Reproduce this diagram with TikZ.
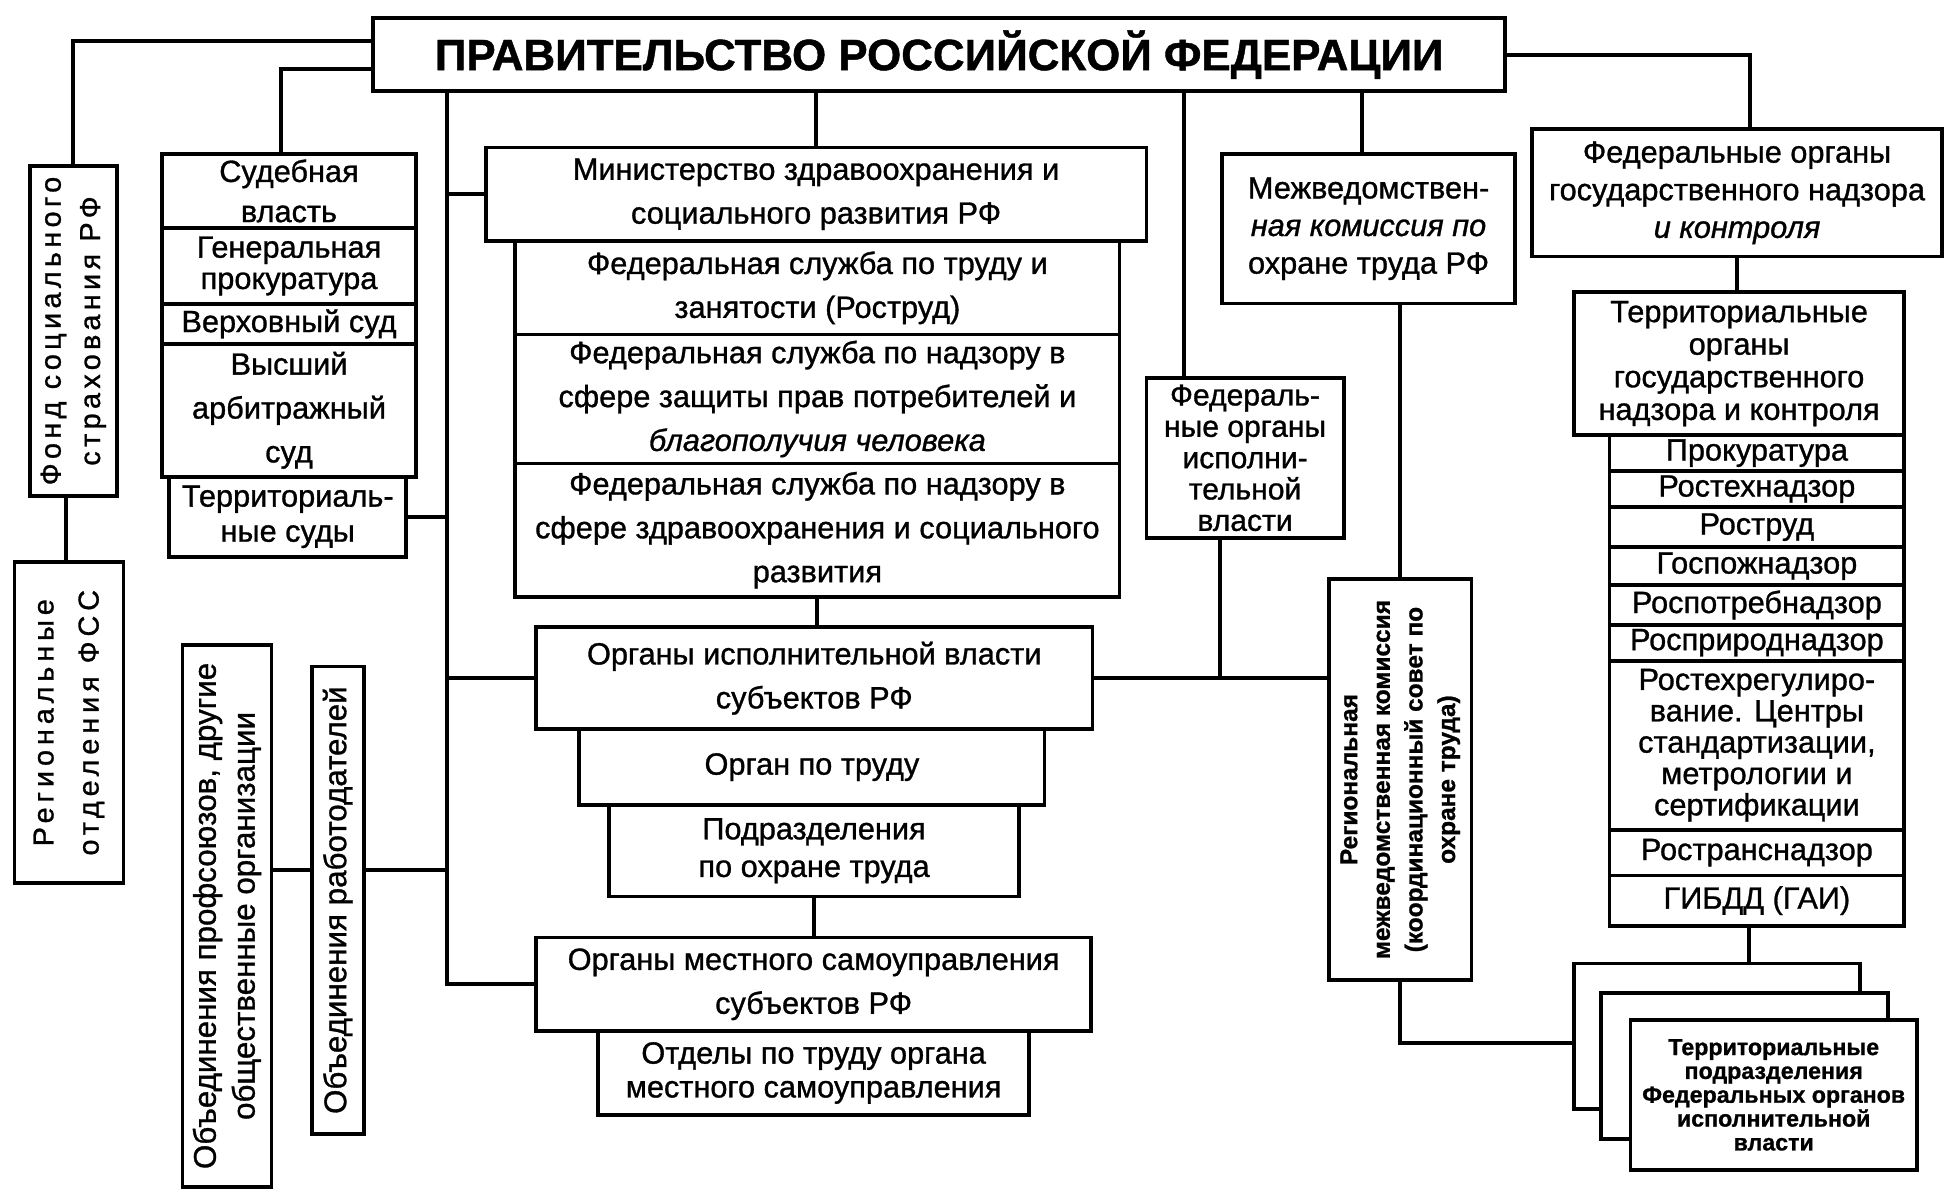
\documentclass[tikz,border=0pt]{standalone}
\usepackage{fontspec}
\setmainfont{Liberation Sans}
\newcommand{\fsz}[2]{\fontsize{#1}{#2}\selectfont\addfontfeatures{FakeBold=1}}

\begin{document}
\begin{tikzpicture}[x=1pt,y=-1pt,
  box/.style={draw,line width=3pt,inner sep=0pt,align=center,fill=white,font=\fsz{24.5}{35}},
  vbox/.style={box,rotate=90},
  link/.style={line width=3.2pt}]

  \useasboundingbox (0,0) rectangle (1560,955);

  \node[box,minimum width=903pt,minimum height=58pt,font=\fsz{35}{40}\bfseries] (gov) at (749,43.6) {ПРАВИТЕЛЬСТВО РОССИЙСКОЙ ФЕДЕРАЦИИ};

  % left column
  \node[vbox,minimum width=263pt,minimum height=69.5pt,font={\fsz{23}{31.4}\addfontfeatures{LetterSpace=15}}] (fss) at (58.5,264) {Фонд социального\\страхования РФ};
  \node[vbox,minimum width=256pt,minimum height=87pt,font={\fsz{23}{36}\addfontfeatures{LetterSpace=17}}] (regfss) at (55,576.4) {Региональные\\отделения ФСС};

  \node[box,minimum width=203pt,minimum height=59.1pt,font=\fsz{24.5}{32}] (sud) at (230.5,152.25) {Судебная\\власть};
  \node[box,minimum width=203pt,minimum height=60.6pt,font=\fsz{24.5}{25}] (genpr) at (230.5,212.1) {Генеральная\\прокуратура};
  \node[box,minimum width=203pt,minimum height=31.8pt] (verkh) at (230.5,258.3) {Верховный суд};
  \node[box,minimum width=203pt,minimum height=106.1pt] (vas) at (230.5,327.25) {Высший\\арбитражный\\суд};
  \node[box,minimum width=189pt,minimum height=63.7pt,font=\fsz{24.5}{28}] (terrsud) at (229.5,412.15) {Территориаль-\\ные суды};

  \node[vbox,minimum width=432.4pt,minimum height=71pt,font=\fsz{25}{31}] (profs) at (181,730.5) {Объединения профсоюзов, другие\\общественные организации};
  \node[vbox,minimum width=372.8pt,minimum height=41.6pt,font=\fsz{25}{31}] (rabot) at (269.4,717.9) {Объединения работодателей};

  % middle column
  \node[box,minimum width=527pt,minimum height=74.8pt] (ministry) at (650.85,155) {Министерство здравоохранения и\\социального развития РФ};
  \node[box,minimum width=482pt,minimum height=74.3pt] (fs1) at (651.9,229.55) {Федеральная служба по труду и\\занятости (Роструд)};
  \node[box,minimum width=482pt,minimum height=103pt] (fs2) at (651.9,318.2) {Федеральная служба по надзору в\\сфере защиты прав потребителей и\\{\itshape благополучия человека}};
  \node[box,minimum width=482pt,minimum height=106.3pt] (fs3) at (651.9,422.85) {Федеральная служба по надзору в\\сфере здравоохранения и социального\\развития};

  \node[box,minimum width=444pt,minimum height=81.2pt] (orgisp) at (649.4,540.9) {Органы исполнительной власти\\субъектов РФ};
  \node[box,minimum width=371pt,minimum height=60.6pt] (orgtrud) at (647.55,611.8) {Орган по труду};
  \node[box,minimum width=326.5pt,minimum height=72.8pt,font=\fsz{24.5}{30}] (podr) at (649.25,678.5) {Подразделения\\по охране труда};
  \node[box,minimum width=443pt,minimum height=74.8pt] (orgmest) at (648.9,785) {Органы местного самоуправления\\субъектов РФ};
  \node[box,minimum width=344pt,minimum height=66.7pt,font=\fsz{24.5}{27}] (otdely) at (648.9,855.75) {Отделы по труду органа\\местного самоуправления};

  % right part
  \node[box,minimum width=234pt,minimum height=119.3pt,font=\fsz{24.5}{30}] (mezhved) at (1091.5,182.35) {Межведомствен-\\{\itshape ная комиссия по}\\охране труда РФ};
  \node[box,minimum width=157.4pt,minimum height=127.3pt,font=\fsz{24}{25}] (fedisp) at (993,365.15) {Федераль-\\ные органы\\исполни-\\тельной\\власти};
  \node[vbox,minimum width=319.5pt,minimum height=113.5pt,font=\fsz{19.5}{26}\bfseries] (regmv) at (1116.75,621.75) {Региональная\\межведомственная комиссия\\(координационный совет по\\охране труда)};

  \node[box,minimum width=327pt,minimum height=101.5pt,font=\fsz{24.5}{30}] (fedgos) at (1385.4,153.75) {Федеральные органы\\государственного надзора\\{\itshape и контроля}};
  \node[box,minimum width=263.6pt,minimum height=114pt,font=\fsz{24.5}{26}] (terrgos) at (1387,290) {Территориальные\\органы\\государственного\\надзора и контроля};

  \foreach \nm/\yc/\hh/\txt in {prok/361.4/28.8/Прокуратура, rth/390.15/28.7/Ростехнадзор,
      rtrud/420.45/31.9/Роструд, gpn/451.55/30.3/Госпожнадзор, rpotr/482.45/31.5/Роспотребнадзор,
      rprir/512.6/28.8/Росприроднадзор, rtreg/594.4/134.8/{Ростехрегулиро-\\вание. Центры\\стандартизации,\\метрологии и\\сертификации},
      rtrans/680/36.4/Ространснадзор, gibdd/718.35/40.3/ГИБДД (ГАИ)}
    \node[box,minimum width=235.2pt,minimum height=\hh pt,font=\fsz{24.5}{25}] (\nm) at (1401.2,\yc) {\txt};

  \node[box,minimum width=228pt,minimum height=116.1pt] (back) at (1369.2,826.55) {};
  \node[box,minimum width=228.5pt,minimum height=116.2pt] (mid) at (1391.25,850.1) {};
  \node[box,minimum width=228.6pt,minimum height=119.6pt,font=\fsz{18.5}{19}\bfseries] (front) at (1414.6,873.2) {Территориальные\\подразделения\\Федеральных органов\\исполнительной\\власти};

  % connectors
  \coordinate (trunk) at ([xshift=60.5pt]gov.south west);
  \draw[link] ([yshift=11pt]gov.west) -| (fss.east);
  \draw[link] ([yshift=-11.5pt]gov.west) -| ([xshift=-6pt]sud.north);
  \draw[link] ([xshift=-6pt]fss.west) -- ([xshift=-6pt]fss.west |- regfss.east);
  \draw[link] (trunk) |- (orgmest.west);
  \draw[link] (trunk |- ministry.west) -- (ministry.west);
  \draw[link] (terrsud.east) -- (terrsud.east -| trunk);
  \draw[link] (trunk |- orgisp.west) -- (orgisp.west);
  \draw[link] ([yshift=24pt]rabot.south) -- ([yshift=24pt]rabot.south -| trunk);
  \draw[link] ([yshift=37pt]profs.south) -- ([yshift=37pt]profs.south -| rabot.north);

  \draw[link] (ministry.north |- gov.south) -- (ministry.north);
  \draw[link] (fs3.south) -- (fs3.south |- orgisp.north);
  \draw[link] (podr.south) -- (podr.south |- orgmest.north);

  \draw[link] ([xshift=-49pt]fedisp.north) -- ([xshift=-49pt]fedisp.north |- gov.south);
  \draw[link] (orgisp.east) -- (orgisp.east -| regmv.north);
  \draw[link] ([xshift=-20pt]fedisp.south) -- ([xshift=-20pt]fedisp.south |- orgisp.east);
  \draw[link] ([xshift=-5pt]mezhved.north |- gov.south) -- ([xshift=-5pt]mezhved.north);
  \draw[link] (regmv.east |- mezhved.south) -- (regmv.east);
  \draw[link] (regmv.west) |- ([yshift=-5pt]back.west);

  \draw[link] (gov.east) -| ([xshift=10pt]fedgos.north);
  \draw[link] (fedgos.south) -- (fedgos.south |- terrgos.north);
  \draw[link] ([xshift=-6pt]gibdd.south) -- ([xshift=-6pt]gibdd.south |- back.north);

\end{tikzpicture}
\end{document}
